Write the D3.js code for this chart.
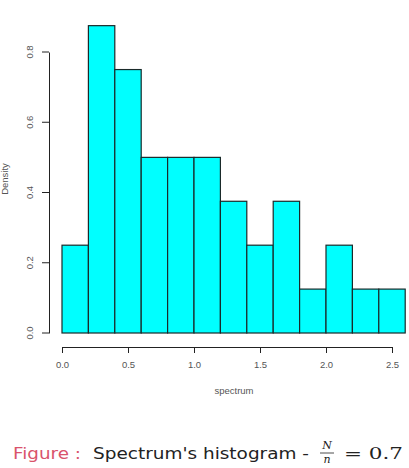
<!DOCTYPE html>
<meta charset="utf-8">
<script src="https://d3js.org/d3.v7.min.js"></script>
<style>
  body { margin: 0; background: #fff; }
  .axis text { font-family: "Liberation Sans", Arial, sans-serif; font-size: 9.5px; fill: #555; }
  .axis path, .axis line { stroke: #222; }
</style>
<svg id="chart" width="409" height="468"></svg>
<script>

// histogram bins (width 0.2) and their densities
var binStarts = [0.0, 0.2, 0.4, 0.6, 0.8, 1.0, 1.2, 1.4, 1.6, 1.8, 2.0, 2.2, 2.4];
var densities = [0.25, 0.875, 0.75, 0.5, 0.5, 0.5, 0.375, 0.25, 0.375, 0.125, 0.25, 0.125, 0.125];
var binWidth = 0.2;
var xTicks = [0, 0.5, 1.0, 1.5, 2.0, 2.5];
var yTicks = [0, 0.2, 0.4, 0.6, 0.8];

var svg = d3.select("#chart");

// scales
var x = d3.scaleLinear().domain([0, 2.5]).range([62, 392]);
var y = d3.scaleLinear().domain([0, 0.8]).range([333, 52]);

// bars
svg.append("g")
  .selectAll("rect")
  .data(binStarts)
  .enter()
  .append("rect")
    .attr("x", function(d) { return x(d); })
    .attr("width", function(d) { return x(d + binWidth) - x(d); })
    .attr("y", function(d, i) { return y(densities[i]); })
    .attr("height", function(d, i) { return y(0) - y(densities[i]); })
    .attr("fill", "#00ffff")
    .attr("stroke", "#1a2a2a")
    .attr("stroke-width", 1.2);

// x axis
svg.append("g")
  .attr("class", "axis")
  .attr("transform", "translate(0,347)")
  .call(d3.axisBottom(x).tickValues(xTicks).tickFormat(d3.format(".1f")).tickSize(6).tickSizeOuter(0).tickPadding(8));

// y axis
var yAxis = svg.append("g")
  .attr("class", "axis")
  .attr("transform", "translate(49,0)")
  .call(d3.axisLeft(y).tickValues(yTicks).tickFormat(d3.format(".1f")).tickSize(7).tickSizeOuter(0).tickPadding(0));

yAxis.selectAll("text")
  .attr("transform", function(d) { return "translate(-19," + y(d) + ") rotate(-90)"; })
  .attr("x", 0).attr("y", 0)
  .attr("dy", "0.35em")
  .style("text-anchor", "middle");
yAxis.selectAll(".tick").attr("transform", null);
yAxis.selectAll(".tick line").attr("y1", function(d) { return y(d); }).attr("y2", function(d) { return y(d); });

// axis titles
svg.append("text")
  .attr("x", (x(0) + x(2.5)) / 2 + 7)
  .attr("y", 394)
  .attr("text-anchor", "middle")
  .style("font-family", "Liberation Sans, Arial, sans-serif")
  .style("font-size", "9.5px")
  .style("fill", "#555")
  .text("spectrum");

svg.append("text")
  .attr("transform", "translate(8,179) rotate(-90)")
  .attr("text-anchor", "middle")
  .style("font-family", "Liberation Sans, Arial, sans-serif")
  .style("font-size", "9.5px")
  .style("fill", "#555")
  .text("Density");

// caption
svg.append("text")
  .attr("x", 13)
  .attr("y", 459)
  .attr("textLength", 68)
  .attr("lengthAdjust", "spacingAndGlyphs")
  .style("font-family", "'DejaVu Sans', sans-serif")
  .style("font-size", "16.5px")
  .style("fill", "#d9536c")
  .text("Figure :");

svg.append("text")
  .attr("x", 93)
  .attr("y", 459)
  .attr("textLength", 216)
  .attr("lengthAdjust", "spacingAndGlyphs")
  .style("font-family", "'DejaVu Sans', sans-serif")
  .style("font-size", "16.5px")
  .style("fill", "#222")
  .text("Spectrum's histogram -");

var frac = svg.append("g").attr("transform", "translate(327,0)");
frac.append("text").attr("x", 0).attr("y", 449).attr("text-anchor", "middle")
  .style("font-family", "'DejaVu Serif', serif").style("font-style", "italic").style("font-size", "11px").style("fill", "#222").text("N");
frac.append("line").attr("x1", -7).attr("x2", 7).attr("y1", 453).attr("y2", 453).attr("stroke", "#222").attr("stroke-width", 0.8);
frac.append("text").attr("x", 0).attr("y", 463).attr("text-anchor", "middle")
  .style("font-family", "'DejaVu Serif', serif").style("font-style", "italic").style("font-size", "11px").style("fill", "#222").text("n");

svg.append("text")
  .attr("x", 344)
  .attr("y", 459)
  .attr("textLength", 59)
  .attr("lengthAdjust", "spacingAndGlyphs")
  .style("font-family", "'DejaVu Serif', serif")
  .style("font-size", "17px")
  .style("fill", "#222")
  .text("= 0.7");

</script>
